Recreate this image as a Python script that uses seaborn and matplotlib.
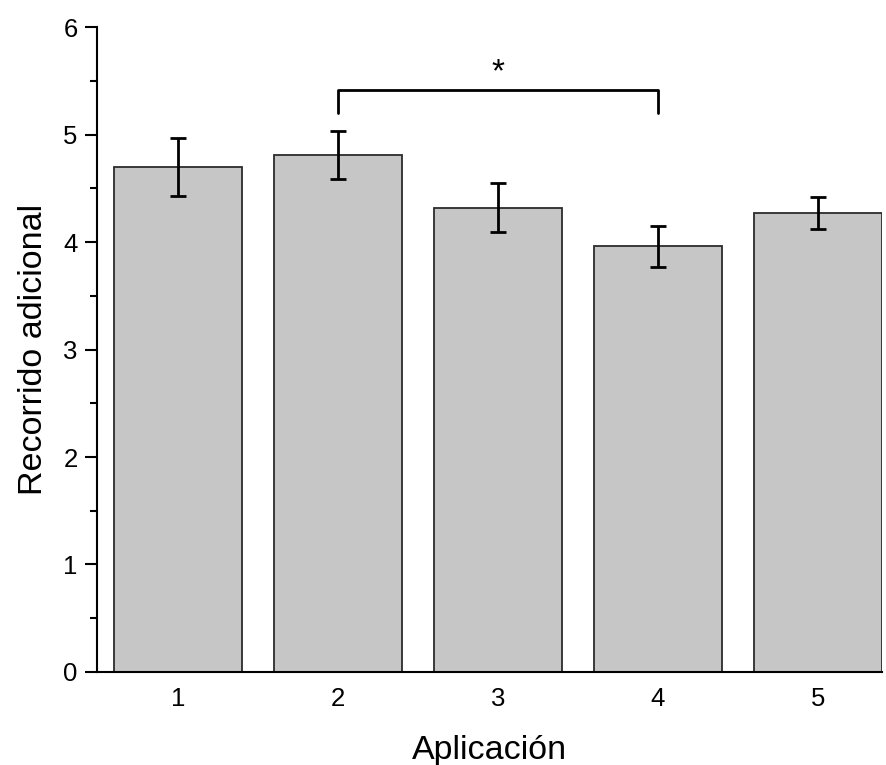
import numpy as np
import pandas as pd
import matplotlib
matplotlib.use("Agg")
import matplotlib.pyplot as plt
from matplotlib.ticker import MultipleLocator
import seaborn as sns

### Data
aplicacion = ["1", "2", "3", "4", "5"]
recorrido = [4.70, 4.81, 4.32, 3.96, 4.27]
sem = [0.27, 0.22, 0.23, 0.19, 0.15]

# significance bracket between application 2 and 4
sig_pair = ("2", "4")
sig_y = 5.41
sig_leg = 5.20
sig_label = "*"

df = pd.DataFrame({"Aplicación": aplicacion, "Recorrido": recorrido, "sem": sem})

sns.set_theme(style="ticks")
plt.rcParams["font.family"] = ["Liberation Sans", "DejaVu Sans"]
plt.rcParams["text.color"] = "black"
plt.rcParams["axes.labelcolor"] = "black"
plt.rcParams["xtick.color"] = "black"
plt.rcParams["ytick.color"] = "black"

fig = plt.figure(figsize=(8.87, 7.65), dpi=100)
ax = fig.add_axes([0.1094, 0.1216, 0.885, 0.843])

sns.barplot(data=df, x="Aplicación", y="Recorrido", color="#c6c6c6",
            saturation=1, width=0.8, errorbar=None, edgecolor="#2b2b2b",
            linewidth=1.3, ax=ax)

xpos = np.arange(len(aplicacion))
ax.errorbar(xpos, df["Recorrido"], yerr=df["sem"], fmt="none",
            ecolor="black", elinewidth=2, capsize=5.5, capthick=2)

# bracket
i1, i2 = aplicacion.index(sig_pair[0]), aplicacion.index(sig_pair[1])
ax.plot([i1, i1, i2, i2], [sig_leg, sig_y, sig_y, sig_leg], color="black", lw=2)
ax.text((i1 + i2) / 2, sig_y + 0.02, sig_label, ha="center", va="bottom",
        fontsize=24, color="black")

ax.set_ylim(0, 6)
ax.set_xlim(-0.506, 4.4)
ax.yaxis.set_major_locator(MultipleLocator(1))
ax.yaxis.set_minor_locator(MultipleLocator(0.5))
ax.tick_params(axis="y", which="major", length=9, width=1.5, labelsize=18.5, pad=5)
ax.tick_params(axis="y", which="minor", length=5, width=1.5)
ax.tick_params(axis="x", length=0, labelsize=18.5, pad=11)

for s in ["top", "right"]:
    ax.spines[s].set_visible(False)
for s in ["left", "bottom"]:
    ax.spines[s].set_linewidth(1.5)
    ax.spines[s].set_color("black")

ax.set_xlabel("Aplicación", fontsize=24.5, labelpad=17)
ax.set_ylabel("Recorrido adicional", fontsize=24.5, labelpad=10)

fig.savefig("out.png", dpi=100)
